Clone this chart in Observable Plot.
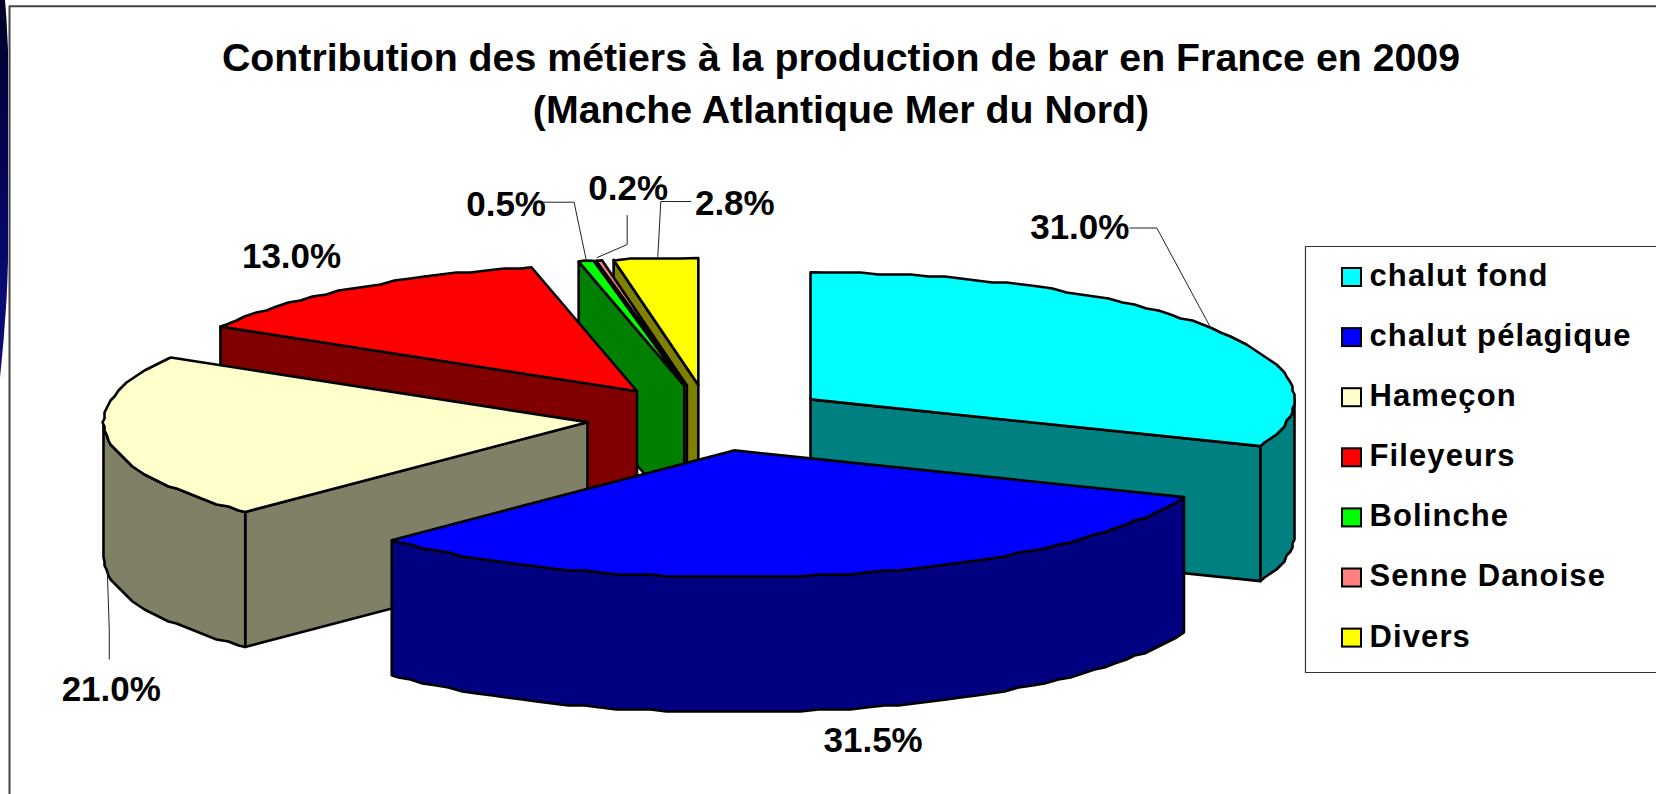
<!DOCTYPE html>
<html lang="fr">
<head>
<meta charset="utf-8">
<title>Contribution des métiers</title>
<script src="https://cdn.jsdelivr.net/npm/d3@7"></script>
<script src="https://cdn.jsdelivr.net/npm/@observablehq/plot@0.6"></script>
<style>
html,body{margin:0;padding:0;background:#fff;overflow:hidden}
</style>
</head>
<body>
<div id="chart"></div>
<script>
// ---- data ----
const categories = ["chalut fond","chalut pélagique","Hameçon","Fileyeurs","Bolinche","Senne Danoise","Divers"];
const shares = [31.0,31.5,21.0,13.0,0.5,0.2,2.8];
const titleLines = ["Contribution des métiers à la production de bar en France en 2009","(Manche Atlantique Mer du Nord)"];

// ---- styles & layout ----
const topColors = ["#00FFFF","#0000FF","#FFFFCC","#FF0000","#00FF00","#FF8080","#FFFF00"];
const sideColors = ["#008080","#000080","#808066","#800000","#008000","#804040","#808000"];
const W = 1656, H = 794;
const pie = {cx:708.6, cy:417.5, rx:484, ry:127, explode:122.6, tilt:0.27, depth:135, snap:2, step:2};
const paintOrder = [6,5,4,3,2,0,1];
// offsets from each slice's rim mid-point: label, then leader path from the rim outward
const labelOffsets = [[-131,-100],[41,166],[4,252],[-61,-32],[-80,-56],[29,-72],[79,-55]];
const leaderOffsets = [[[0,0],[-54,-100],[-81,-100]],null,[[0,132],[2,192],[2,221]],null,[[0,-2],[-12,-59],[-42,-59]],[[-2,-3],[28,-16],[28,-45]],[[2,-2],[5,-57],[35,-57]]];
const font = "'Liberation Sans',Arial,sans-serif";

// ---- geometry derived from shares ----
const rad = d => d*Math.PI/180;
let acc = 0;
const slices = shares.map((s,i)=>{
  const a0 = acc/100*360; acc += s; const a1 = acc/100*360; const mid=(a0+a1)/2;
  const ax = pie.cx + pie.explode*Math.sin(rad(mid));
  const ay = pie.cy - pie.explode*pie.tilt*Math.cos(rad(mid));
  return {i,a0,a1,mid,ax,ay};
});
const rim = (s,a)=>[s.ax+pie.rx*Math.sin(rad(a)), s.ay-pie.ry*Math.cos(rad(a))];
const snap = v => Math.round(v/pie.snap)*pie.snap;
function arc(s,a0,a1){
  const pts=[rim(s,a0)];
  for(let a=Math.ceil(a0/pie.step+0.01)*pie.step;a<a1-0.5;a+=pie.step){const p=rim(s,a);pts.push([snap(p[0]),snap(p[1])]);}
  pts.push(rim(s,a1));
  return pts;
}
const down = ([x,y])=>[x,y+pie.depth];
const poly = (pts,fill,sw=2.6)=>Plot.line(pts,{x:d=>d[0],y:d=>d[1],fill,stroke:"#000",strokeWidth:sw,curve:"linear-closed",strokeLinejoin:"round"});

const sliceMarks=[];
for(const k of paintOrder){
  const s=slices[k], top=topColors[k], side=sideColors[k], A=[s.ax,s.ay];
  const face=a=>{const r=rim(s,a);return poly([A,r,down(r),down(A)],side);};
  if(-Math.cos(rad(s.a0-90))>1e-6) sliceMarks.push(face(s.a0));
  if(-Math.cos(rad(s.a1+90))>1e-6) sliceMarks.push(face(s.a1));
  const w0=Math.max(s.a0,90), w1=Math.min(s.a1,270);
  if(w1>w0){const r=arc(s,w0,w1);sliceMarks.push(poly([...r,...r.map(down).reverse()],side));}
  sliceMarks.push(poly([A,...arc(s,s.a0,s.a1)],top));
}

// labels and leaders
const rimMid = s=>[s.ax+pie.rx*Math.sin(rad(s.mid)), s.ay-pie.ry*Math.cos(rad(s.mid))];
const labels = slices.map((s,i)=>{const m=rimMid(s);return {text:shares[i].toFixed(1)+"%",x:m[0]+labelOffsets[i][0],y:m[1]+labelOffsets[i][1]};});
const leaderMarks = slices.flatMap((s,i)=>{
  if(!leaderOffsets[i]) return [];
  const m=rimMid(s);
  return [Plot.line(leaderOffsets[i].map(o=>[m[0]+o[0],m[1]+o[1]]),{x:d=>d[0],y:d=>d[1],stroke:"#222",strokeWidth:1})];
});

// legend
const legendRow = {y0:277, dy:60.1, sw:19, sh:18, swatchX:1342, textX:1369};
const legendRows = categories.map((name,i)=>({name,fill:topColors[i],y:legendRow.y0+i*legendRow.dy}));

// page chrome
const frame = [[9,794],[9,5.7],[1656,5.7]];
const legendBox = [[1656,246],[1305,246],[1305,672],[1656,672]];
const strip = [[0,0,5],[20,0,6.5],[50,0,8],[260,0,8],[280,0,7.4],[300,0,6.5],[340,0,3.6],[378,0,0]];

const spaced = ls => (index,scales,values,dim,ctx,next)=>{const g=next(index,scales,values,dim,ctx);g.setAttribute("letter-spacing",ls);return g;};

const gradient = ()=>{
  const ns="http://www.w3.org/2000/svg";
  const defs=document.createElementNS(ns,"defs");
  const lg=document.createElementNS(ns,"linearGradient");
  lg.setAttribute("id","stripGrad");lg.setAttribute("x1","0");lg.setAttribute("y1","0");lg.setAttribute("x2","0");lg.setAttribute("y2","1");
  [[0,"#000028"],[0.55,"#060660"],[1,"#0c0c80"]].forEach(([o,c])=>{const st=document.createElementNS(ns,"stop");st.setAttribute("offset",o);st.setAttribute("stop-color",c);lg.appendChild(st);});
  defs.appendChild(lg);return defs;
};

const chart = Plot.plot({
  width:W,height:H,margin:0,
  x:{domain:[0,W],range:[0,W],axis:null},
  y:{domain:[0,H],range:[0,H],axis:null},
  style:{background:"#fff",fontFamily:font},
  marks:[
    gradient,
    Plot.areaX(strip,{y:d=>d[0],x1:d=>d[1],x2:d=>d[2],fill:"url(#stripGrad)"}),
    Plot.line(frame,{x:d=>d[0],y:d=>d[1],stroke:"#444",strokeWidth:2}),
    ...sliceMarks,
    ...leaderMarks,
    Plot.text(labels,{x:"x",y:"y",text:"text",fontSize:35,fontWeight:"bold",fill:"#000",fontFamily:font,textAnchor:"middle"}),
    Plot.text(titleLines,{x:()=>840.5,y:(d,i)=>70+i*52,text:d=>d,fontSize:39.3,fontWeight:"bold",fill:"#000",fontFamily:font,lineAnchor:"bottom"}),
    Plot.line(legendBox,{x:d=>d[0],y:d=>d[1],stroke:"#333",strokeWidth:1.2}),
    Plot.rect(legendRows,{x1:()=>legendRow.swatchX,x2:()=>legendRow.swatchX+legendRow.sw,y1:d=>d.y-legendRow.sh/2,y2:d=>d.y+legendRow.sh/2,fill:"fill",stroke:"#000",strokeWidth:2}),
    Plot.text(legendRows,{x:()=>legendRow.textX,y:d=>d.y-1.5,text:"name",textAnchor:"start",fontSize:31,fontWeight:"bold",fill:"#000",fontFamily:font,render:spaced("1.1")})
  ],
  color:{type:"identity"}
});
document.getElementById("chart").appendChild(chart);
</script>
</body>
</html>
